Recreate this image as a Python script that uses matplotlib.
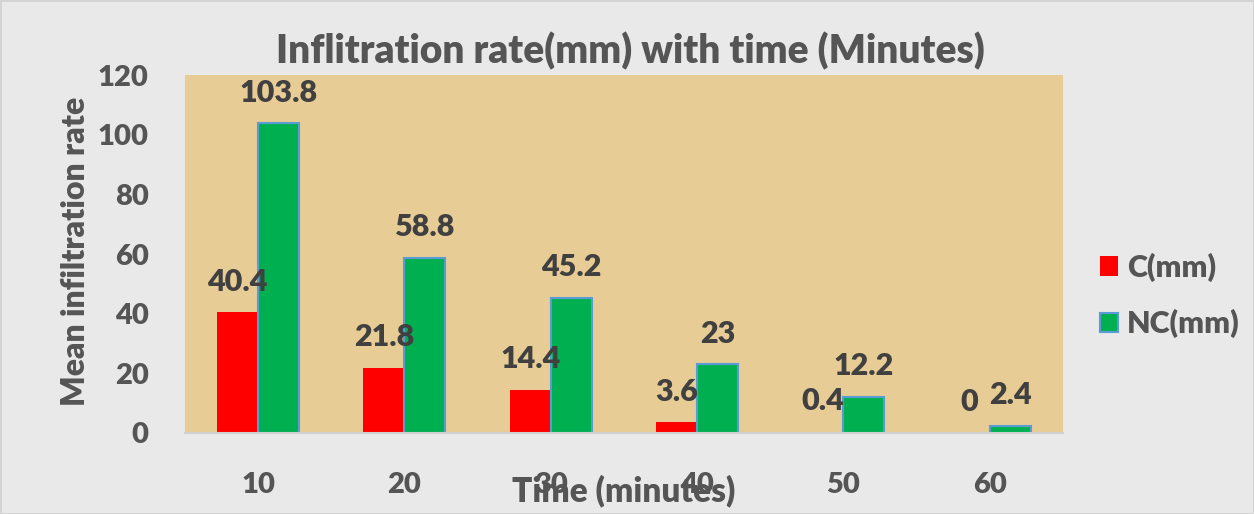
import matplotlib.pyplot as plt
import numpy as np

times = ['10', '20', '30', '40', '50', '60']
c_mm = [40.4, 21.8, 14.4, 3.6, 0.4, 0]
nc_mm = [103.8, 58.8, 45.2, 23, 12.2, 2.4]
c_labels = ['40.4', '21.8', '14.4', '3.6', '0.4', '0']
nc_labels = ['103.8', '58.8', '45.2', '23', '12.2', '2.4']

txt = '#555555'
plt.rcParams['font.family'] = ['Lato', 'DejaVu Sans']
plt.rcParams['font.weight'] = 'heavy'

fig = plt.figure(figsize=(12.54, 5.14), dpi=100)
fig.patch.set_facecolor('#e9e9e9')
fig.patch.set_edgecolor('#d4d4d4')
fig.patch.set_linewidth(2)
ax = fig.add_axes([0.1475, 0.1576, 0.70, 0.6964])
ax.set_facecolor('#e7cd95')

x = np.arange(len(times))
w = 0.28
b1 = ax.bar(x - w/2, c_mm, w, color='#ff0000', label='C(mm)', zorder=2)
b2 = ax.bar(x + w/2, nc_mm, w, color='#00b050', edgecolor='#5b9bd5',
            linewidth=1.5, label='NC(mm)', zorder=2)

for rect, lab in zip(b1, c_labels):
    ax.annotate(lab, (rect.get_x() + rect.get_width()/2, rect.get_height()),
                xytext=(0, 12), textcoords='offset points', ha='center', va='bottom',
                fontsize=22, fontweight='heavy', color='#404040')
for rect, lab in zip(b2, nc_labels):
    ax.annotate(lab, (rect.get_x() + rect.get_width()/2, rect.get_height()),
                xytext=(0, 12), textcoords='offset points', ha='center', va='bottom',
                fontsize=22, fontweight='heavy', color='#404040')

ax.set_xlim(-0.5, len(times) - 0.5)
ax.set_ylim(0, 120)
ax.set_yticks(np.arange(0, 121, 20))
ax.set_xticks(x)
ax.set_xticklabels(times)
ax.tick_params(axis='y', length=0, pad=26, labelsize=21, labelcolor=txt)
ax.tick_params(axis='x', length=0, pad=28, labelsize=21, labelcolor=txt)
for s in ['top', 'right', 'left']:
    ax.spines[s].set_visible(False)
ax.spines['bottom'].set_color('#d0d0d0')
ax.spines['bottom'].set_linewidth(1.5)

fig.text(0.503, 0.9, 'Inflitration rate(mm) with time (Minutes)', ha='center', va='center',
         fontsize=28, fontweight='heavy', color=txt)
fig.text(0.497, 0.045, 'Time (minutes)', ha='center', va='center',
         fontsize=24, fontweight='heavy', color=txt)
fig.text(0.06, 0.51, 'Mean infiltration rate', ha='center', va='center', rotation=90,
         fontsize=23, fontweight='heavy', color=txt)

leg = fig.legend(handles=[b1, b2], loc='center left', bbox_to_anchor=(0.855, 0.425),
                 frameon=False, fontsize=22, handlelength=0.6, handleheight=0.6,
                 handletextpad=0.3, labelspacing=0.9)
for t in leg.get_texts():
    t.set_color(txt)
    t.set_fontweight('heavy')

fig.savefig('out.png', dpi=100, facecolor=fig.get_facecolor(), edgecolor=fig.get_edgecolor())
